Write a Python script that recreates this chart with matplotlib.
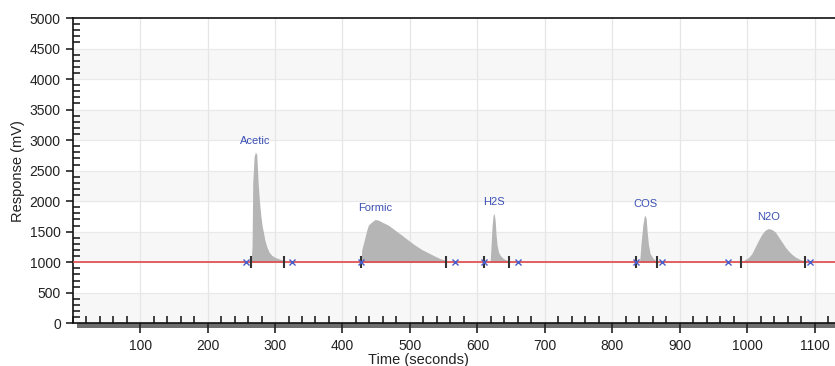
import matplotlib
matplotlib.use('Agg')
import matplotlib.pyplot as plt
from matplotlib.patches import Rectangle
from matplotlib.ticker import MultipleLocator

plt.rcParams['font.family'] = ['Liberation Sans', 'DejaVu Sans']

baseline = 1000
peak_names = ['Acetic', 'Formic', 'H2S', 'COS', 'N2O']

acetic_t = [264.5, 266, 267, 269, 271, 273, 275, 277, 279, 281, 283, 285, 288, 291, 295, 300, 305, 310, 313]
acetic_v = [1000, 1250, 2295, 2726, 2808, 2760, 2300, 1990, 1760, 1590, 1480, 1360, 1250, 1170, 1115, 1080, 1060, 1040, 1030]

formic_t = [427.6, 428.5, 431, 433.5, 436, 438.4, 443.4, 448.3, 453.2, 458.2, 468, 478, 488, 497.7, 507.6, 517.6, 527.4, 537.3, 544.7, 552, 553]
formic_v = [1000, 1200, 1306, 1415, 1525, 1607, 1660, 1700, 1690, 1660, 1607, 1525, 1443, 1360, 1280, 1208, 1153, 1098, 1060, 1033, 1020]

h2s_t = [618.8, 620.3, 621.8, 623.3, 624.8, 626.3, 627.7, 629.2, 631.2, 633.7, 638.6, 643.6, 647.5]
h2s_v = [1000, 1280, 1607, 1770, 1798, 1690, 1443, 1280, 1170, 1115, 1060, 1033, 1015]

cos_t = [840.2, 841.2, 842.7, 845.2, 847.1, 848.6, 850.1, 851.6, 853.6, 856, 860, 863.5, 866]
cos_v = [1000, 1115, 1333, 1607, 1743, 1770, 1716, 1497, 1280, 1142, 1070, 1033, 1015]

n2o_t = [992, 997, 1001.8, 1006.8, 1011.7, 1016.7, 1021.6, 1026.5, 1031.5, 1036.4, 1041.4, 1046.3, 1051.3, 1056.2, 1061.1, 1066, 1071, 1078.4, 1086]
n2o_v = [1010, 1045, 1077, 1142, 1251, 1360, 1459, 1525, 1552, 1536, 1497, 1415, 1333, 1251, 1185, 1131, 1087, 1045, 1020]

boundary_times = [264.5, 313, 428, 553, 610, 647.5, 835, 866, 991, 1086]
cross_times = [257, 325, 428, 567, 610, 660, 835, 873, 972, 1093]

x_ticks = [100, 200, 300, 400, 500, 600, 700, 800, 900, 1000, 1100]
y_ticks = [0, 500, 1000, 1500, 2000, 2500, 3000, 3500, 4000, 4500, 5000]

peaks = [(acetic_t, acetic_v), (formic_t, formic_v), (h2s_t, h2s_v), (cos_t, cos_v), (n2o_t, n2o_v)]

fig = plt.figure(figsize=(8.35, 3.66), dpi=100)
ax = fig.add_axes([72.6 / 835, (366 - 323.3) / 366, (835 - 72.6) / 835, (323.3 - 18) / 366])
ax.set_xlim(0, 1130)
ax.set_ylim(0, 5000)

# alternating bands
for i, y0 in enumerate(y_ticks[:-1]):
    if i % 2 == 0:
        ax.axhspan(y0, y0 + 500, color='#f7f7f7', zorder=0, lw=0)
for x in x_ticks:
    ax.axvline(x, color='#e6e6e6', lw=0.9, zorder=0.5)
for y in y_ticks[1:-1]:
    ax.axhline(y, color='#e9e9e9', lw=0.9, zorder=0.5)

for (t, v) in peaks:
    ax.fill_between(t, baseline, v, color='#b5b5b5', lw=0, zorder=2)

ax.axhline(baseline, color='#e04848', lw=1.2, zorder=3)

ax.plot(boundary_times, [baseline] * len(boundary_times), ls='none', marker='|',
        markersize=9, mew=1.5, color='#333333', zorder=4)
ax.plot(cross_times, [baseline] * len(cross_times), ls='none', marker='x',
        markersize=5, mew=1.0, color='#4a5cc8', zorder=4)

for name, (t, v) in zip(peak_names, peaks):
    i = v.index(max(v))
    ax.text(t[i], max(v) + 100, name, ha='center', va='bottom', fontsize=8, color='#3c50b4', zorder=5)

ax.set_xticks(x_ticks)
ax.set_yticks(y_ticks)
ax.xaxis.set_minor_locator(MultipleLocator(20))
ax.yaxis.set_minor_locator(MultipleLocator(100))
ax.tick_params(axis='both', which='major', direction='out', length=5, width=1.2, colors='#222222', labelsize=10)
ax.tick_params(axis='x', which='major', length=7.2, pad=4)
ax.tick_params(axis='both', which='minor', direction='in', length=5, width=1.2, color='#222222')

for s in ['right']:
    ax.spines[s].set_visible(False)
for s in ['left', 'top', 'bottom']:
    ax.spines[s].set_color('#111111')
    ax.spines[s].set_linewidth(1.2)

ax.add_patch(Rectangle((0.006, -5 / 305), 0.994, 5 / 305, transform=ax.transAxes,
                       color='#6e6e6e', clip_on=False, zorder=1, lw=0))

ax.set_xlabel('Time (seconds)', fontsize=10.5, color='#222222')
ax.set_ylabel('Response (mV)', fontsize=10.5, color='#222222')
ax.xaxis.set_label_coords((418 - 72.6) / (835 - 72.6), -0.097)
ax.yaxis.set_label_coords(-0.062, 0.5)

fig.savefig('out.png', dpi=100)
